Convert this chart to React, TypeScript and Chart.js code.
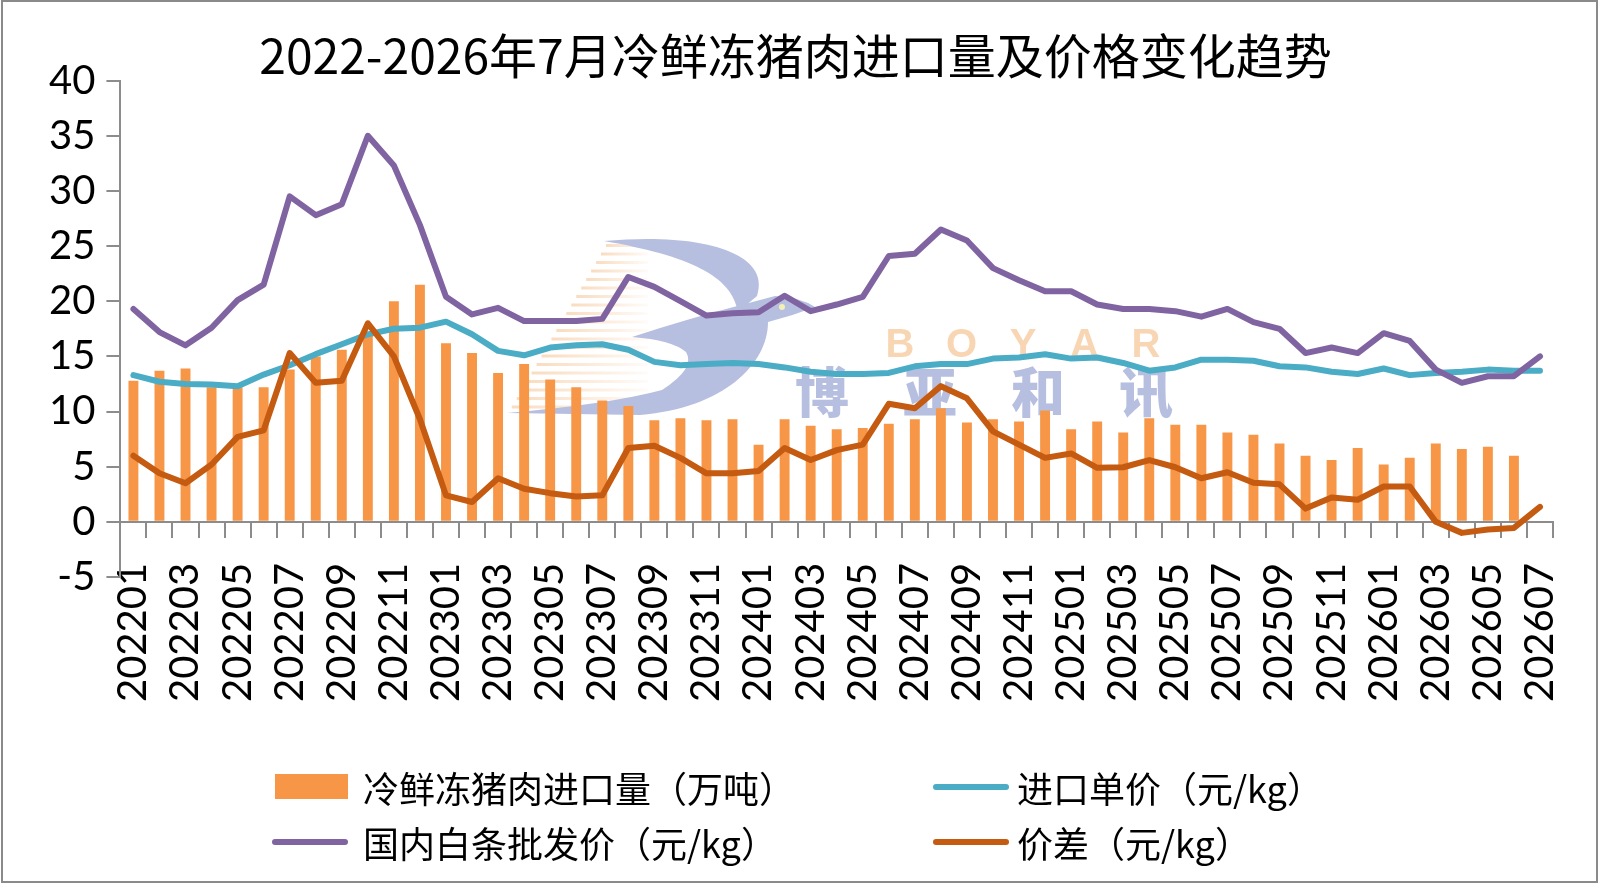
import React, { useEffect, useRef } from 'react';
import { Chart, registerables } from 'chart.js';

Chart.register(...registerables);

const titleText = '2022-2026年7月冷鲜冻猪肉进口量及价格变化趋势';

const categories = [
  '202201', '202202', '202203', '202204', '202205', '202206', '202207', '202208', '202209', '202210', '202211', '202212',
  '202301', '202302', '202303', '202304', '202305', '202306', '202307', '202308', '202309', '202310', '202311', '202312',
  '202401', '202402', '202403', '202404', '202405', '202406', '202407', '202408', '202409', '202410', '202411', '202412',
  '202501', '202502', '202503', '202504', '202505', '202506', '202507', '202508', '202509', '202510', '202511', '202512',
  '202601', '202602', '202603', '202604', '202605', '202606', '202607',
];

// 冷鲜冻猪肉进口量（万吨）
const importVolume: (number | null)[] = [
  12.8, 13.7, 13.9, 12.2, 12.2, 12.2, 13.8, 15.0, 15.6, 17.0, 20.0, 21.5,
  16.2, 15.3, 13.5, 14.3, 12.9, 12.2, 11.0, 10.5, 9.2, 9.4, 9.2, 9.3,
  7.0, 9.3, 8.7, 8.4, 8.5, 8.9, 9.3, 10.3, 9.0, 9.3, 9.1, 10.1,
  8.4, 9.1, 8.1, 9.4, 8.8, 8.8, 8.1, 7.9, 7.1, 6.0, 5.6, 6.7,
  5.2, 5.8, 7.1, 6.6, 6.8, 6.0, null,
];

// 进口单价（元/kg）
const importPrice = [
  13.3, 12.7, 12.5, 12.45, 12.3, 13.35, 14.2, 15.2, 16.1, 17.0, 17.5, 17.6,
  18.15, 17.0, 15.5, 15.1, 15.8, 16.0, 16.1, 15.6, 14.5, 14.2, 14.3, 14.4,
  14.3, 14.0, 13.6, 13.4, 13.4, 13.5, 14.1, 14.3, 14.3, 14.8, 14.9, 15.2,
  14.8, 14.9, 14.4, 13.7, 14.0, 14.7, 14.7, 14.6, 14.1, 14.0, 13.6, 13.4,
  13.9, 13.3, 13.5, 13.6, 13.8, 13.7, 13.7,
];

// 国内白条批发价（元/kg）
const domesticPrice = [
  19.3, 17.2, 16.0, 17.6, 20.1, 21.5, 29.5, 27.8, 28.8, 35.0, 32.3, 26.9,
  20.4, 18.8, 19.4, 18.2, 18.2, 18.2, 18.4, 22.2, 21.3, 20.0, 18.7, 18.9,
  19.0, 20.5, 19.1, 19.7, 20.4, 24.1, 24.3, 26.5, 25.5, 23.0, 21.9, 20.9,
  20.9, 19.7, 19.3, 19.3, 19.1, 18.6, 19.3, 18.1, 17.5, 15.3, 15.8, 15.3,
  17.1, 16.4, 13.8, 12.6, 13.2, 13.2, 15.0,
];

// 价差（元/kg）
const priceGap = [
  6.0, 4.4, 3.5, 5.2, 7.7, 8.3, 15.3, 12.6, 12.8, 18.0, 15.0, 9.3,
  2.4, 1.8, 3.95, 3.0, 2.6, 2.3, 2.4, 6.7, 6.9, 5.8, 4.4, 4.4,
  4.6, 6.7, 5.6, 6.5, 7.0, 10.7, 10.3, 12.3, 11.2, 8.2, 7.0, 5.8,
  6.2, 4.9, 4.95, 5.6, 4.95, 3.95, 4.5, 3.55, 3.4, 1.2, 2.2, 2.0,
  3.2, 3.2, 0.0, -1.0, -0.7, -0.55, 1.35,
];

const seriesNames = [
  '冷鲜冻猪肉进口量（万吨）',
  '进口单价（元/kg）',
  '国内白条批发价（元/kg）',
  '价差（元/kg）',
];
const seriesColors = ['#F79646', '#4BACC6', '#8064A2', '#C55A11'];

const yMin = -5;
const yMax = 40;
const yStep = 5;

const axisGray = '#8c8c8c';
const numFont = 'Lato';
const cjkFont = '"Noto Sans CJK SC"';

const watermarkPlugin = {
  id: 'boyarWatermark',
  beforeDatasetsDraw(chart: any) {
    const ctx: CanvasRenderingContext2D = chart.ctx;
    ctx.save();
    // fading stripes
    for (let y = 244; y <= 412; y += 8.5) {
      const xl = 606 - (y - 244) * (98 / 168);
      const xr = 648;
      const g = ctx.createLinearGradient(xl, 0, xr, 0);
      g.addColorStop(0, 'rgba(248,208,170,0.75)');
      g.addColorStop(1, 'rgba(248,208,170,0.08)');
      ctx.fillStyle = g;
      ctx.fillRect(xl, y, xr - xl, 3);
    }
    // bird logo
    ctx.fillStyle = '#B6BFDF';
    ctx.beginPath();
    ctx.moveTo(604, 241);
    ctx.bezierCurveTo(700, 232, 772, 252, 757, 296);
    ctx.lineTo(738, 312);
    ctx.bezierCurveTo(732, 276, 690, 256, 604, 241);
    ctx.closePath();
    ctx.fill();
    ctx.beginPath();
    ctx.moveTo(632, 337);
    ctx.quadraticCurveTo(690, 318, 745, 304);
    ctx.lineTo(775, 296);
    ctx.quadraticCurveTo(800, 297, 815, 307);
    ctx.quadraticCurveTo(792, 316, 768, 322);
    ctx.bezierCurveTo(768, 364, 724, 408, 640, 415);
    ctx.lineTo(507, 413);
    ctx.quadraticCurveTo(610, 404, 662, 390);
    ctx.quadraticCurveTo(696, 368, 686, 352);
    ctx.quadraticCurveTo(672, 340, 632, 337);
    ctx.closePath();
    ctx.fill();
    ctx.fillStyle = '#F4F0B8';
    ctx.beginPath();
    ctx.arc(782, 307, 3, 0, Math.PI * 2);
    ctx.fill();
    // texts
    ctx.textAlign = 'center';
    ctx.textBaseline = 'middle';
    ctx.fillStyle = '#F8D6B4';
    ctx.font = 'bold 40px "Liberation Sans"';
    const boyar = 'BOYAR';
    for (let k = 0; k < boyar.length; k++) {
      ctx.fillText(boyar[k], 900 + 61.5 * k, 346);
    }
    ctx.fillStyle = '#B6BFDF';
    ctx.font = '900 54px "Noto Sans CJK SC"';
    const cn = '博亚和讯';
    for (let k = 0; k < cn.length; k++) {
      ctx.fillText(cn[k], 822 + 108 * k, 392);
    }
    ctx.restore();
  },
};

export default function App() {
  const ref = useRef<HTMLCanvasElement>(null);

  useEffect(() => {
    document.body.style.margin = '0';
    const lineBase = {
      type: 'line' as const,
      pointRadius: 0,
      borderWidth: 6,
      tension: 0,
      fill: false,
      borderJoinStyle: 'round' as const,
      borderCapStyle: 'round' as const,
    };
    const chart = new Chart(ref.current as HTMLCanvasElement, {
      type: 'bar',
      data: {
        labels: categories,
        datasets: [
          { ...lineBase, label: seriesNames[3], data: priceGap, borderColor: seriesColors[3], backgroundColor: seriesColors[3], order: 0 },
          { ...lineBase, label: seriesNames[2], data: domesticPrice, borderColor: seriesColors[2], backgroundColor: seriesColors[2], order: 1 },
          { ...lineBase, label: seriesNames[1], data: importPrice, borderColor: seriesColors[1], backgroundColor: seriesColors[1], order: 2 },
          {
            type: 'bar',
            label: seriesNames[0],
            data: importVolume,
            backgroundColor: seriesColors[0],
            barPercentage: 0.38,
            categoryPercentage: 1,
            order: 3,
          },
        ] as any,
      },
      options: {
        responsive: false,
        animation: false,
        events: [],
        layout: { padding: { left: 38, right: 47, top: 24, bottom: 308 } },
        plugins: {
          legend: { display: false },
          tooltip: { enabled: false },
          title: {
            display: true,
            text: titleText,
            color: '#000',
            font: { family: cjkFont, size: 48, weight: 'normal' },
            padding: { top: 3, bottom: -4 },
          },
        },
        scales: {
          x: {
            position: { y: 0 } as any,
            afterFit: (s: any) => {
              s.paddingLeft = 0;
              s.paddingRight = 0;
            },
            grid: { offset: true, drawOnChartArea: false, tickLength: 15, color: axisGray, lineWidth: 2 },
            border: { color: axisGray, width: 2 },
            ticks: {
              autoSkip: false,
              maxRotation: 90,
              minRotation: 90,
              padding: 26,
              color: '#000',
              font: { family: numFont, size: 40 },
              callback: (_v: any, i: number) => (i % 2 === 0 ? categories[i] : ''),
            },
          },
          y: {
            min: yMin,
            max: yMax,
            ticks: { stepSize: yStep, padding: 11, color: '#000', font: { family: numFont, size: 40 } },
            grid: { drawOnChartArea: false, tickLength: 14, color: axisGray, lineWidth: 2 },
            border: { color: axisGray, width: 2 },
          },
        },
      } as any,
      plugins: [watermarkPlugin],
    });
    return () => chart.destroy();
  }, []);

  const legendItems = [
    { name: seriesNames[0], color: seriesColors[0], kind: 'box', left: 275, textLeft: 363, cy: 787 },
    { name: seriesNames[1], color: seriesColors[1], kind: 'line', left: 933, textLeft: 1017, cy: 787 },
    { name: seriesNames[2], color: seriesColors[2], kind: 'line', left: 272, textLeft: 363, cy: 842 },
    { name: seriesNames[3], color: seriesColors[3], kind: 'line', left: 933, textLeft: 1017, cy: 842 },
  ];

  return (
    <div style={{ position: 'absolute', left: 0, top: 0, width: 1600, height: 885, background: '#fff', overflow: 'hidden' }}>
      <canvas ref={ref} width={1600} height={885} style={{ position: 'absolute', left: 0, top: 0, width: 1600, height: 885 }} />
      {legendItems.map((it) => (
        <React.Fragment key={it.name}>
          {it.kind === 'box' ? (
            <div style={{ position: 'absolute', left: it.left, top: it.cy - 13, width: 73, height: 25, background: it.color }} />
          ) : (
            <div style={{ position: 'absolute', left: it.left, top: it.cy - 3, width: 76, height: 6, borderRadius: 3, background: it.color }} />
          )}
          <div
            style={{
              position: 'absolute',
              left: it.textLeft,
              top: it.cy - 18,
              height: 36,
              lineHeight: '36px',
              fontFamily: cjkFont,
              fontSize: 36,
              color: '#000',
              whiteSpace: 'nowrap',
            }}
          >
            {it.name}
          </div>
        </React.Fragment>
      ))}
      <div
        style={{
          position: 'absolute',
          left: 1,
          top: 0,
          width: 1597,
          height: 883,
          border: '2px solid #8a8a8a',
          boxSizing: 'border-box',
          pointerEvents: 'none',
        }}
      />
    </div>
  );
}
